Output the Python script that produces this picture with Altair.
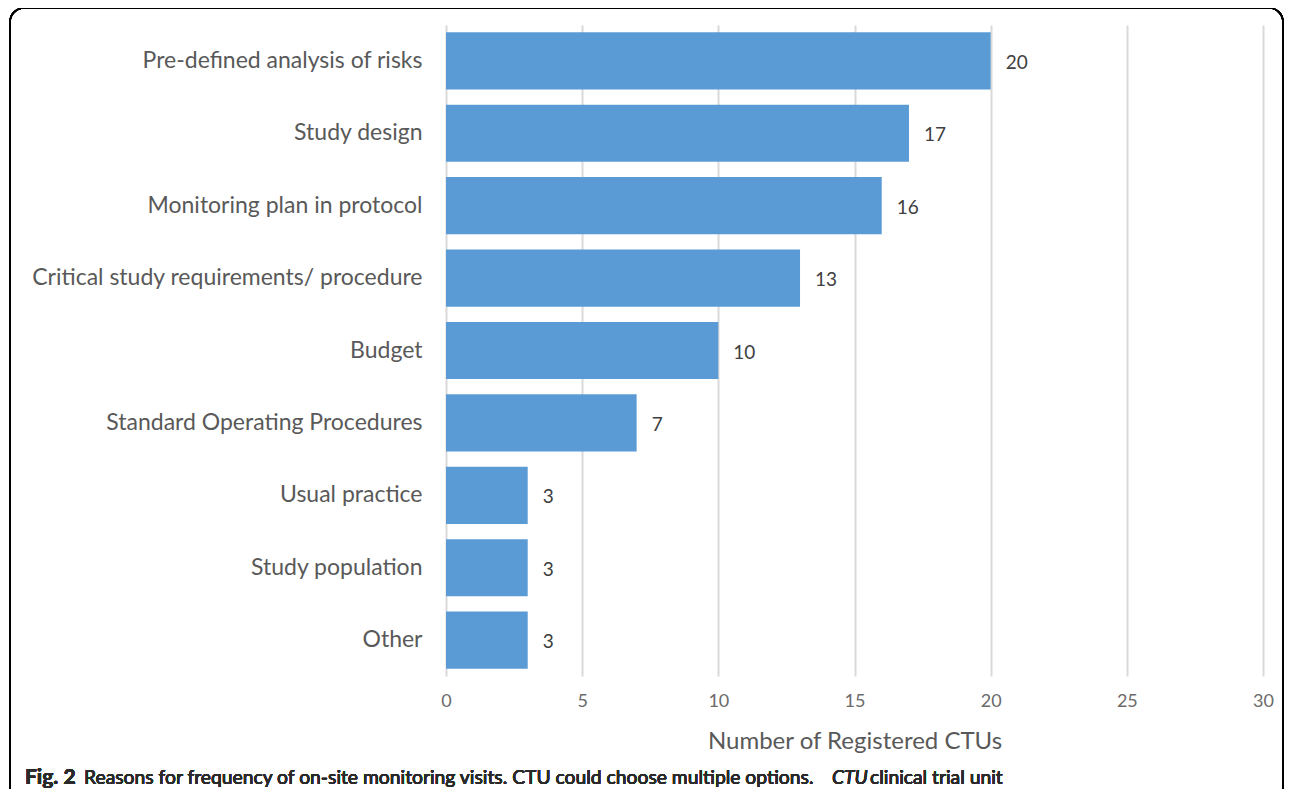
import altair as alt
import pandas as pd

categories = [
    "Pre-defined analysis of risks",
    "Study design",
    "Monitoring plan in protocol",
    "Critical study requirements/ procedure",
    "Budget",
    "Standard Operating Procedures",
    "Usual practice",
    "Study population",
    "Other",
]
values = [20, 17, 16, 13, 10, 7, 3, 3, 3]
x_ticks = [0, 5, 10, 15, 20, 25, 30]
x_title = "Number of Registered CTUs"

df = pd.DataFrame({"reason": categories, "count": values})

FONT = "Lato"
W, H = 817, 651

y_enc = alt.Y(
    "reason:N",
    sort=categories,
    title=None,
    scale=alt.Scale(paddingInner=0.21, paddingOuter=0.1),
    axis=alt.Axis(
        labelFont=FONT, labelFontSize=23, labelColor="#595959",
        labelPadding=24, ticks=False, domain=False, grid=False,
        labelLimit=500,
    ),
)
x_enc = alt.X(
    "count:Q",
    title=x_title,
    scale=alt.Scale(domain=[0, 30], nice=False),
    axis=alt.Axis(
        values=x_ticks, labelFont=FONT, labelFontSize=18, labelColor="#6b6b6b",
        labelPadding=16, labelFlush=False, ticks=False, domain=False, grid=True,
        gridColor="#d9d9d9", gridWidth=2,
        titleFont=FONT, titleFontSize=24, titleColor="#595959",
        titleFontWeight="normal", titlePadding=19,
    ),
)

bars = alt.Chart(df).mark_bar(color="#5b9bd5").encode(x=x_enc, y=y_enc)
labels = alt.Chart(df).mark_text(
    align="left", baseline="middle", dx=15, dy=2, font=FONT, fontSize=19, color="#404040"
).encode(x="count:Q", y=alt.Y("reason:N", sort=categories), text="count:Q")

frame = alt.Chart(df).mark_rect(
    filled=False, stroke="#000000", strokeWidth=1.5, cornerRadius=14, clip=False
).encode(
    x=alt.value(-436), x2=alt.value(837), y=alt.value(-17), y2=alt.value(775)
)

cap_y = 759
cap_font = "Lato"
cap_size = 19.3
cap_color = "#2a2a2a"
cap1 = alt.Chart(df).mark_text(
    align="left", baseline="alphabetic", font=cap_font, fontSize=21,
    fontWeight="bold", color=cap_color, clip=False
).encode(x=alt.value(-421), y=alt.value(cap_y), text=alt.value("Fig. 2"))
cap2 = alt.Chart(df).mark_text(
    align="left", baseline="alphabetic", font=cap_font, fontSize=cap_size,
    color=cap_color, clip=False
).encode(
    x=alt.value(-362), y=alt.value(cap_y),
    text=alt.value("Reasons for frequency of on-site monitoring visits. CTU could choose multiple options."),
)
cap3 = alt.Chart(df).mark_text(
    align="left", baseline="alphabetic", font=cap_font, fontSize=cap_size,
    fontStyle="italic", color=cap_color, clip=False
).encode(x=alt.value(386), y=alt.value(cap_y), text=alt.value("CTU"))
cap4 = alt.Chart(df).mark_text(
    align="left", baseline="alphabetic", font=cap_font, fontSize=cap_size,
    color=cap_color, clip=False
).encode(x=alt.value(424), y=alt.value(cap_y), text=alt.value("clinical trial unit"))

chart = alt.layer(bars, labels, frame, cap1, cap2, cap3, cap4).properties(
    width=W, height=H,
    autosize=alt.AutoSizeParams(type="none"),
    padding={"left": 438, "top": 17, "right": 21, "bottom": 113},
).configure_view(stroke=None)

chart.save("out.html", embed_options={"renderer": "svg", "actions": False})
